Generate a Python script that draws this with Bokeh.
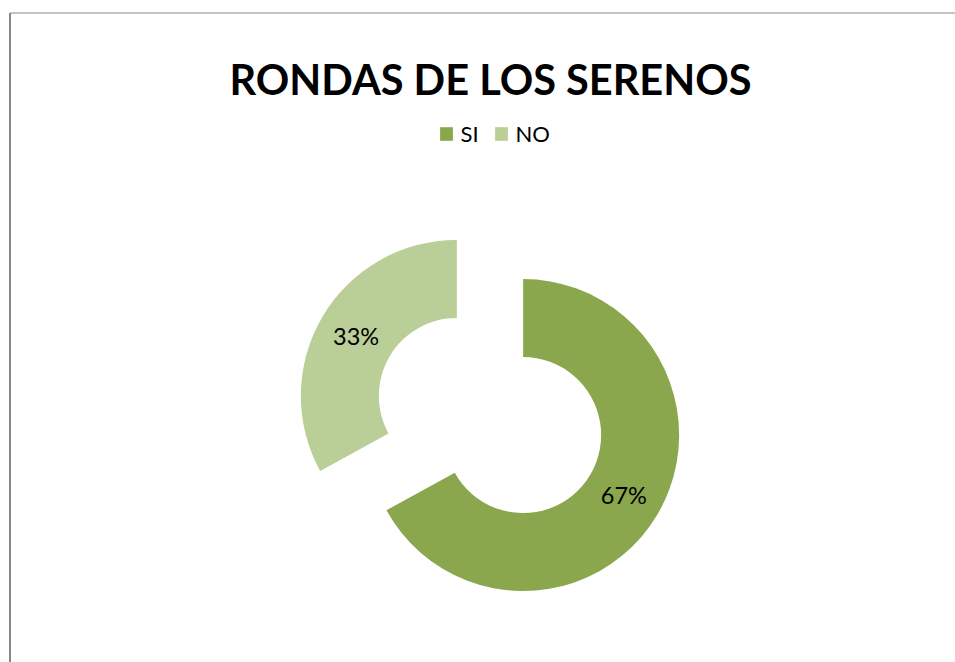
import math
from bokeh.plotting import figure
from bokeh.models import ColumnDataSource, Range1d, Label, Legend, LegendItem
from bokeh.core.properties import value
from bokeh.embed import file_html
from bokeh.resources import INLINE

# ---- data ----
title_text = "RONDAS DE LOS SERENOS"
categories = ["SI", "NO"]
values = [67, 33]
colors = ["#8AA74E", "#BACE97"]

# ---- layout constants ----
W, H = 955, 662
FONT = "Lato"
cx, cy = 489.5, 247.0      # pie centre (data units == px)
R_OUT, R_IN = 156.0, 78.0
EXPLODE = 38.5

total = float(sum(values))
starts, ends, xs, ys, lx, ly, labels = [], [], [], [], [], [], []
cum = 0.0
for v in values:
    a0 = math.pi / 2 - 2 * math.pi * cum / total
    cum += v
    a1 = math.pi / 2 - 2 * math.pi * cum / total
    mid = (a0 + a1) / 2
    x = cx + EXPLODE * math.cos(mid)
    y = cy + EXPLODE * math.sin(mid)
    starts.append(a0); ends.append(a1); xs.append(x); ys.append(y)
    rm = (R_OUT + R_IN) / 2
    lx.append(x + rm * math.cos(mid)); ly.append(y + rm * math.sin(mid))
    labels.append(f"{round(100 * v / total)}%")

src = ColumnDataSource(dict(x=xs, y=ys, start=starts, end=ends, color=colors,
                            cat=categories, lx=lx, ly=ly, lab=labels))

p = figure(width=W, height=H, output_backend="svg", toolbar_location=None,
           x_range=Range1d(0, W), y_range=Range1d(0, H), min_border=0)
p.axis.visible = False
p.grid.visible = False
p.outline_line_color = None
p.background_fill_color = "white"

r = p.annular_wedge(x="x", y="y", inner_radius=R_IN, outer_radius=R_OUT,
                    start_angle="start", end_angle="end", direction="clock",
                    fill_color="color", line_color=None, source=src)

p.text(x="lx", y="ly", text="lab", source=src, text_align="center",
       text_baseline="middle", text_font=value(FONT), text_font_size="23.5px",
       text_color="black")

p.add_layout(Label(x=490, y=H - 78, text=title_text, text_align="center",
                   text_baseline="alphabetic", text_font=FONT, text_font_size="41.5px",
                   text_font_style="bold", text_color="black"))

# chart border (partially visible: top and left edges)
p.segment(x0=[9.5, 9.5], y0=[H - 12.5, H - 12.5], x1=[W + 5, 9.5], y1=[H - 12.5, -5],
          line_color="#878787", line_width=[1, 2])

legend = Legend(items=[LegendItem(label=c, renderers=[r], index=i) for i, c in enumerate(categories)],
                orientation="horizontal", location=(437.5, 515), padding=0, margin=0,
                glyph_width=16, glyph_height=17, label_standoff=7, spacing=12,
                label_text_font=FONT, label_text_font_size="22px", label_text_color="black",
                border_line_alpha=0, background_fill_alpha=0)
p.add_layout(legend)

open("out.html", "w").write(file_html(p, INLINE))
